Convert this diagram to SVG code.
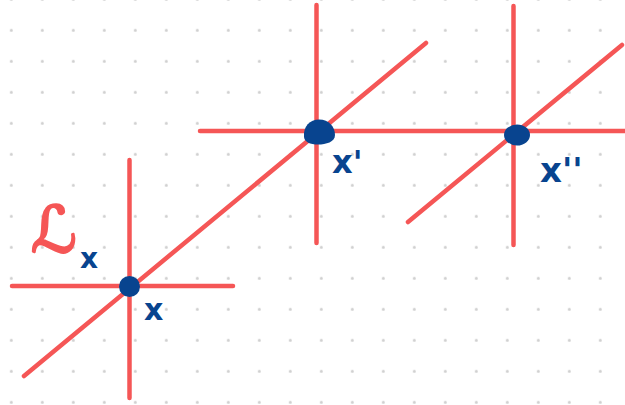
<svg xmlns="http://www.w3.org/2000/svg" width="625" height="405" viewBox="0 0 625 405">
  <defs>
    <pattern id="grid" patternUnits="userSpaceOnUse" x="-4.2" y="14.8" width="31" height="31">
      <circle cx="15.5" cy="15.5" r="1.5" fill="#cfcfcf"/>
    </pattern>
    <style>
      .ln { stroke: #f55656; stroke-width: 4.5; stroke-linecap: round; fill: none; }
      .nd { fill: #08448f; }
      .lb { fill: #08448f; font-family: "DejaVu Sans", "Liberation Sans", sans-serif; font-weight: bold; }
      .red { fill: #f55656; stroke: #f55656; stroke-width: 2.2; stroke-linejoin: round; font-family: "DejaVu Serif", "DejaVu Sans", serif; }
    </style>
  </defs>
  <rect width="625" height="405" fill="#ffffff"/>
  <rect width="625" height="405" fill="url(#grid)"/>

  <g id="connectors">
    <line class="ln" x1="24" y1="376" x2="426" y2="43"/>
    <line class="ln" x1="12" y1="286" x2="233" y2="286"/>
    <line class="ln" x1="129.5" y1="160" x2="129.5" y2="398"/>
    <line class="ln" x1="200" y1="131" x2="625" y2="131"/>
    <line class="ln" x1="316.5" y1="5" x2="316.5" y2="243"/>
    <line class="ln" x1="513.5" y1="6" x2="513.5" y2="245"/>
    <line class="ln" x1="408" y1="222" x2="622" y2="45"/>
  </g>

  <g id="node-x">
    <ellipse class="nd" cx="129.5" cy="286.5" rx="10.5" ry="10.5"/>
    <text class="lb" x="144" y="320" font-size="30">x</text>
  </g>
  <g id="node-x1">
    <path class="nd" d="M304,137 C303,126 310,119.5 319,119.5 C329,119.5 335,127 335,135 C335,142 326,144.5 318,144.5 C310,144.5 304.5,142 304,137 Z"/>
    <text class="lb" x="332" y="173" font-size="32">x'</text>
  </g>
  <g id="node-x2">
    <ellipse class="nd" cx="517" cy="135" rx="13" ry="10.5"/>
    <text class="lb" x="540" y="182" font-size="34">x''</text>
  </g>
  <g id="label-L">
    <text class="red" x="31" y="252" font-size="64">ℒ</text>
    <text class="lb" x="80" y="268" font-size="28">x</text>
  </g>
</svg>
